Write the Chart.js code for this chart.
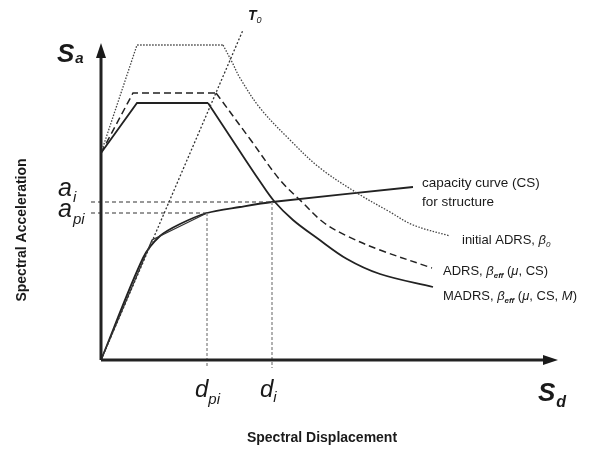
<!DOCTYPE html>
<html>
<head>
<meta charset="utf-8">
<script src="https://cdn.jsdelivr.net/npm/chart.js@4/dist/chart.umd.min.js"></script>
<style>
  html, body { margin: 0; padding: 0; background: #fff; }
  #wrap { width: 605px; height: 454px; position: relative; }
</style>
</head>
<body>
<div id="wrap"><canvas id="chart"></canvas></div>
<script>
// schematic values, Sd / Sa in arbitrary units
const initialAdrs = [[0,20.7],[3.6,31.5],[12.2,31.5],[13.1,29.8],[13.9,28.2],[15.9,25.2],[18.9,22.0],[21.9,19.2],[25.6,16.7],[28.9,14.8],[31.2,13.5],[34.9,12.4]];
const adrs = [[0,20.7],[3.2,26.7],[11.5,26.7],[14.9,22.1],[17.9,18.0],[20.1,15.8],[22.2,13.8],[24.6,12.4],[27.9,11.0],[33.1,9.2]];
const madrs = [[0,20.7],[3.6,25.7],[10.7,25.7],[13.6,21.3],[15.8,18.0],[17.3,15.9],[19.2,14.0],[21.6,12.2],[24.6,10.1],[27.9,8.6],[33.2,7.3]];
const capacity = [[0,0],[4.2,10.2],[5.9,12.4],[7.9,13.6],[10.6,14.7],[13.9,15.3],[17.1,15.8],[31.2,17.3]];
const bilinear = [[0,0],[5.1,12.0],[10.6,14.7]];
const initialPeriod = [[0,0],[14.2,33.0]];

const dpi = 10.6, di = 17.1;
const api = 14.7, ai = 15.8;
const sdAxisEnd = 45.7, saAxisEnd = 31.7;

const pts = arr => arr.map(p => ({x: p[0], y: p[1]}));

function line(data, color, width, dash, tension) {
    return {
        data: pts(data),
        showLine: true,
        borderColor: color,
        borderWidth: width,
        borderDash: dash || [],
        pointRadius: 0,
        tension: tension || 0,
        fill: false
    };
}

// spectrum: straight rise + plateau, then a smooth descending branch
function spectrum(data, color, width, dash) {
    return [
        line(data.slice(0, 3), color, width, dash, 0),
        line(data.slice(2), color, width, dash, 0.35)
    ];
}

const datasets = [
    line([[0,0],[sdAxisEnd - 0.8,0]], '#222', 3),
    line([[0,0],[0,saAxisEnd - 0.8]], '#222', 3),
    line([[dpi,api],[dpi,-0.8]], '#888', 1.3, [3,2]),
    line([[di,ai],[di,-0.8]], '#888', 1.3, [3,2]),
    line([[-1.0,ai],[di,ai]], '#333', 1.1, [4,3]),
    line([[-1.0,api],[dpi,api]], '#333', 1.1, [4,3]),
    line(initialPeriod, '#333', 1.3, [2,2]),
    ...spectrum(initialAdrs, '#444', 1.3, [1.5,1.5]),
    ...spectrum(adrs, '#222', 1.5, [7,4]),
    ...spectrum(madrs, '#222', 1.8, []),
    line(bilinear, '#333', 1.2),
    line(capacity, '#222', 1.8, [], 0.3)
];

function sub(ctx, main, subTxt, x, y, mainFont, subFont, dx, dy) {
    ctx.font = mainFont;
    ctx.fillText(main, x, y);
    const w = ctx.measureText(main).width;
    ctx.font = subFont;
    ctx.fillText(subTxt, x + w + dx, y + dy);
}

const annotations = {
    id: 'annotations',
    afterDatasetsDraw(chart) {
        const ctx = chart.ctx;
        const xs = chart.scales.x, ys = chart.scales.y;
        const X = v => xs.getPixelForValue(v);
        const Y = v => ys.getPixelForValue(v);
        ctx.save();
        ctx.fillStyle = '#1a1a1a';

        // arrowheads
        const tipX = X(sdAxisEnd), y0 = Y(0);
        ctx.beginPath();
        ctx.moveTo(tipX, y0);
        ctx.lineTo(tipX - 15, y0 - 5);
        ctx.lineTo(tipX - 15, y0 + 5);
        ctx.closePath();
        ctx.fill();
        const tipY = Y(saAxisEnd), x0 = X(0);
        ctx.beginPath();
        ctx.moveTo(x0, tipY);
        ctx.lineTo(x0 - 5, tipY + 15);
        ctx.lineTo(x0 + 5, tipY + 15);
        ctx.closePath();
        ctx.fill();

        const fam = '"Liberation Sans", Arial, sans-serif';
        ctx.textBaseline = 'alphabetic';
        ctx.textAlign = 'left';

        sub(ctx, 'S', 'a', x0 - 44, tipY + 19, `italic bold 26px ${fam}`, `italic bold 15px ${fam}`, 1, 1);
        sub(ctx, 'S', 'd', tipX - 20, y0 + 41, `italic bold 26px ${fam}`, `italic bold 16px ${fam}`, 1, 6);
        sub(ctx, 'T', '0', X(initialPeriod[1][0]) + 5, Y(initialPeriod[1][1]) - 10, `italic bold 14px ${fam}`, `italic 9px ${fam}`, 0, 3);

        sub(ctx, 'a', 'i', x0 - 43, Y(ai) - 6, `italic 25px ${fam}`, `italic 15px ${fam}`, 1, 6);
        sub(ctx, 'a', 'pi', x0 - 43, Y(api) + 4, `italic 25px ${fam}`, `italic 15px ${fam}`, 1, 7);
        sub(ctx, 'd', 'pi', X(dpi) - 12, y0 + 37, `italic 24px ${fam}`, `italic 15px ${fam}`, 0, 7);
        sub(ctx, 'd', 'i', X(di) - 12, y0 + 37, `italic 24px ${fam}`, `italic 15px ${fam}`, 0, 5);

        ctx.font = `13.5px ${fam}`;
        ctx.fillText('capacity curve (CS)', 422, 187);
        ctx.fillText('for structure', 422, 206);

        // curve labels
        const lab = (parts, x, y) => {
            let cx = x;
            parts.forEach(p => {
                ctx.font = p[1];
                ctx.fillText(p[0], cx, y + (p[2] || 0));
                cx += ctx.measureText(p[0]).width;
            });
        };
        const n = `13px ${fam}`, it = `italic 13px ${fam}`, sb = `italic bold 8px ${fam}`;
        lab([['initial ADRS, ', n], ['β', it], ['0', `italic 8px ${fam}`, 3]], 462, 244);
        lab([['ADRS, ', n], ['β', it], ['eff', sb, 3], [' (', n], ['μ', it], [', CS)', n]], 443, 275);
        lab([['MADRS, ', n], ['β', it], ['eff', sb, 3], [' (', n], ['μ', it], [', CS, ', n], ['M', it], [')', n]], 443, 300);

        ctx.font = `bold 14px ${fam}`;
        ctx.textAlign = 'center';
        ctx.fillText('Spectral Displacement', 322, 442);
        ctx.translate(26, 230);
        ctx.rotate(-Math.PI / 2);
        ctx.fillText('Spectral Acceleration', 0, 0);
        ctx.restore();
    }
};

new Chart(document.getElementById('chart'), {
    type: 'scatter',
    data: { datasets: datasets },
    options: {
        responsive: true,
        maintainAspectRatio: false,
        animation: false,
        layout: { padding: 0 },
        plugins: { legend: { display: false }, tooltip: { enabled: false } },
        scales: {
            x: { display: false, min: -10.1, max: 50.4 },
            y: { display: false, min: -9.4, max: 36.0 }
        }
    },
    plugins: [annotations]
});
</script>
</body>
</html>
